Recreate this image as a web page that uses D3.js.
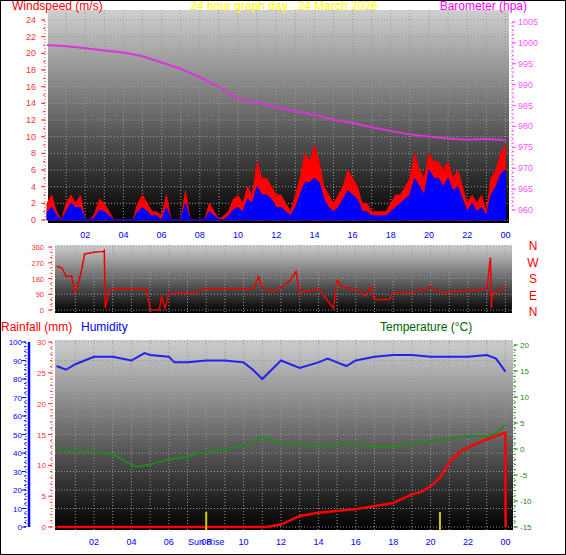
<!DOCTYPE html>
<html><head><meta charset="utf-8">
<script src="https://cdn.jsdelivr.net/npm/d3@7"></script>
<style>body{margin:0;background:#fff}svg{font-family:"Liberation Sans",Arial,sans-serif}</style>
</head><body><svg id="c" width="566" height="555"></svg>
<script>
// wind gust / average, one value per 15 minutes (m/s), 00:00 .. 24:00
const gust = [2,3,1,0, 2,3,2,3, 0,0,0.8,2.5, 2,1,0,0, 0,0,0,2, 3,2,1,1, 0.5,3,0,0, 0,3.5,0,0,
  0,0,2,1, 0,0.5,1,2.5, 3,2,4,3, 7,5,5,4, 3,3,2,1, 3,5,8,7, 9,7,4,3, 2,3,4,6, 5,4,2,2, 1,1,1,1,
  2,3,3,4, 5,8,6,5, 8,7,7,6, 7,5,6,4, 2,3,2,3, 1,5,6,8, 9];
const avg = [1,1.5,0.5,0, 1,2,1.5,1.5, 0,0,0.3,1.2, 1,0.5,0,0, 0,0,0,1, 1.5,1,0.5,0.5, 0,1.5,0,0, 0,2,0,0,
  0,0,1,0.5, 0,0,0.5,1.2, 1.5,1,2.5,2, 4,3,3,2.5, 1.5,1.5,1,0.5, 1.5,3,4.5,4.5, 5,4.5,2.5,1.5, 1,1.5,2.5,3.5, 3,2.5,1,1, 0.5,0.5,0.5,0.5,
  1,1.5,2,2.5, 3,5,4,3, 6,5,5,4, 5,3.5,4,2.5, 1,2,1,1.5, 0.5,3,4,5.5, 6];
const baroT = [0,1,2,3,4,5,6,7,8,9,10,11,12,13,14,15,16,17,18,19,20,21,22,23,24];
const baro = [999.5,999.2,998.7,998.2,997.7,996.8,995.3,993.8,991.8,989.5,986.6,985.7,984.7,983.6,982.8,981.6,980.8,979.8,978.9,978.1,977.6,977.1,976.8,977.0,976.7];
const dirT = [0,0.3,0.5,0.8,1.0,1.3,1.5,2.0,2.5,2.55,2.6,2.8,3.0,4.8,5.0,5.5,5.6,5.8,6.0,7.0,7.5,8.0,10.5,10.8,11.0,11.5,12.0,12.5,12.8,13.0,13.5,14.0,14.3,14.8,15.0,15.3,16.0,16.5,16.8,17.0,17.8,18.0,19.0,20.0,20.5,22.0,23.0,23.2,23.25,23.3,23.6,24.0];
const dir = [250,240,190,195,100,210,320,330,335,340,10,110,120,120,0,0,80,10,95,100,100,120,120,190,130,100,130,170,220,100,110,120,80,10,170,130,120,80,130,60,60,100,100,130,100,110,120,300,10,100,100,140];
const humT = [0,0.5,1,2,3,4,4.7,5,6,6.3,7,8,9,10,10.5,11,11.5,12,13,14,14.5,15,15.5,16,17,18,19,20,21,22,23,23.5,24];
const hum = [87,85,88,92,92,90,94,93,92,89,89,90,90,89,85,80,85,90,86,89,91,89,87,90,92,93,93,92,92,92,93,91,84];
const tempT = [0,0.5,1,2,3,4,4.3,5,6,7,7.5,8,9,10,11,12,13,14,15,16,17,18,19,20,21,22,23,23.5,24];
const temp = [0.4,-0.5,-0.5,-0.5,-1,-3,-3.4,-3,-2,-1.5,-0.8,-0.6,0,0.5,2.2,1,1,0.5,1,1,0.5,0.5,1,1.5,2,2.5,2.5,3,4.7];
const rainT = [0,11.2,12,13,14,16,18,19,19.5,20,20.5,21,21.5,22,23,24,24.01];
const rain = [0,0,0.4,1.8,2.3,2.9,3.9,5.3,5.7,6.6,8,10.5,12,12.9,14.2,15.3,0];
const hourTicks = [2,4,6,8,10,12,14,16,18,20,22,24];
const compass = ["N","W","S","E","N"];

const svg = d3.select("#c");
svg.append("rect").attr("x",0.5).attr("y",0.5).attr("width",565).attr("height",554).attr("fill","#fff").attr("stroke","#000");
const defs = svg.append("defs");
const g = defs.append("linearGradient").attr("id","bg").attr("x1",0).attr("x2",0).attr("y1",0).attr("y2",1);
g.append("stop").attr("offset","0%").attr("stop-color","#cfcfcf");
g.append("stop").attr("offset","100%").attr("stop-color","#000");
const fmtH = h => d3.format("02")(h % 24);

function panel(x0, x1, y0, y1, xs, ys, yt) {
  svg.append("rect").attr("x",x0).attr("y",y0).attr("width",x1-x0).attr("height",y1-y0).attr("fill","url(#bg)");
  const gr = svg.append("g").attr("stroke","#999").attr("stroke-dasharray","1,2").attr("stroke-width",1);
  d3.range(1,25).forEach(h => gr.append("line").attr("x1",xs(h)).attr("x2",xs(h)).attr("y1",y0).attr("y2",y1));
  yt.forEach(v => gr.append("line").attr("x1",x0).attr("x2",x1).attr("y1",ys(v)).attr("y2",ys(v)));
}
function dotAxis(x, ys, ticks, minor, color, side, labX, anchor, fs) {
  const a = svg.append("g");
  const [lo, hi] = ys.domain();
  a.append("line").attr("x1",x).attr("x2",x).attr("y1",ys(lo)).attr("y2",ys(hi)).attr("stroke",color).attr("stroke-dasharray","1,2");
  d3.range(lo, hi + 1e-9, minor).forEach(v => a.append("line").attr("x1",x).attr("x2",x+side*2).attr("y1",ys(v)).attr("y2",ys(v)).attr("stroke",color));
  ticks.forEach(v => {
    a.append("line").attr("x1",x).attr("x2",x+side*4).attr("y1",ys(v)).attr("y2",ys(v)).attr("stroke",color);
    a.append("text").attr("x",labX).attr("y",ys(v)+3).attr("text-anchor",anchor).attr("fill",color).attr("font-size",fs).text(v);
  });
}
function xLabels(xs, y) {
  hourTicks.forEach(h => svg.append("text").attr("x",xs(h)).attr("y",y).attr("text-anchor","middle").attr("fill","#0000ff").attr("font-size",9).text(fmtH(h)));
}

// ---- top panel: wind + barometer
const xT = d3.scaleLinear().domain([0,24]).range([47, 505.4]);
const yW = d3.scaleLinear().domain([0,24]).range([220, 20]);
const yB = d3.scaleLinear().domain([960,1005]).range([210, 22]);
panel(48, 509, 10, 223, xT, yW, d3.range(0,25,2));
const qt = d3.range(gust.length).map(i => i / 4);
const area = arr => d3.area().x((d,i) => xT(qt[i])).y0(yW(0)).y1(d => yW(d))(arr);
svg.append("path").attr("d", area(gust)).attr("fill","#ff0000").attr("stroke","#ee0000");
svg.append("path").attr("d", area(avg)).attr("fill","#0000ff").attr("stroke","#0000ee");
svg.append("path").attr("d", d3.line().x((d,i)=>xT(baroT[i])).y(d=>yB(d))(baro)).attr("fill","none").attr("stroke","#dd33dd").attr("stroke-width",2);
dotAxis(45, yW, d3.range(0,25,2), 1, "#ff3333", -1, 36, "end", 9);
dotAxis(512, yB, d3.range(960,1006,5), 1, "#ff55ff", 1, 518, "start", 9);
xLabels(xT, 238);
svg.append("text").attr("x",12).attr("y",10).attr("fill","#ff0000").attr("font-size",12).text("Windspeed (m/s)");
svg.append("text").attr("x",284).attr("y",10).attr("text-anchor","middle").attr("fill","#ffff00").attr("font-size",12).text("24 hour graph day : 24 March 2026");
svg.append("text").attr("x",527).attr("y",10).attr("text-anchor","end").attr("fill","#ff00ff").attr("font-size",12).text("Barometer (hpa)");

// ---- direction panel
const xB = d3.scaleLinear().domain([0,24]).range([56.6, 505.4]);
const yD = d3.scaleLinear().domain([0,360]).range([310, 247]);
panel(55, 512, 245, 313, xB, yD, [0,90,180,270,360]);
svg.append("path").attr("d", d3.line().x((d,i)=>xB(dirT[i])).y(d=>yD(d))(dir)).attr("fill","none").attr("stroke","#ee0000").attr("stroke-width",1.5);
dotAxis(52, yD, [0,90,180,270,360], 30, "#ff3333", -1, 44, "end", 7.5);
compass.forEach((c,i) => svg.append("text").attr("x",533).attr("y",250+i*16.5).attr("text-anchor","middle").attr("fill","#ff0000").attr("font-size",12).text(c));

// ---- bottom panel
const yH = d3.scaleLinear().domain([0,100]).range([527, 342]);
const yR = d3.scaleLinear().domain([0,30]).range([527, 342]);
const yTp = d3.scaleLinear().domain([-15,20]).range([527, 345]);
panel(55, 513, 340, 530, xB, yH, d3.range(0,101,10));
svg.append("path").attr("d", d3.line().x((d,i)=>xB(humT[i])).y(d=>yH(d))(hum)).attr("fill","none").attr("stroke","#2222ee").attr("stroke-width",2);
svg.append("path").attr("d", d3.line().x((d,i)=>xB(tempT[i])).y(d=>yTp(d))(temp)).attr("fill","none").attr("stroke","#228822").attr("stroke-width",2);
svg.append("path").attr("d", d3.line().x((d,i)=>xB(rainT[i])).y(d=>yR(d))(rain)).attr("fill","none").attr("stroke","#ff0000").attr("stroke-width",2.5);
[8, 20.5].forEach(h => svg.append("line").attr("x1",xB(h)).attr("x2",xB(h)).attr("y1",512).attr("y2",530).attr("stroke","#cccc00").attr("stroke-width",2));
svg.append("line").attr("x1",29).attr("x2",29).attr("y1",yH(0)).attr("y2",yH(100)).attr("stroke","#0000ff").attr("stroke-width",2.5);
dotAxis(26, yH, d3.range(0,101,10), 2.5, "#0000ff", -1, 22, "end", 8);
dotAxis(52, yR, d3.range(0,31,5), 1, "#ff3333", -1, 46, "end", 8);
dotAxis(514, yTp, d3.range(-15,21,5), 1, "#228822", 1, 520, "start", 8);
xLabels(xB, 545);
svg.append("text").attr("x",xB(8)).attr("y",545).attr("text-anchor","middle").attr("fill","#0000ff").attr("font-size",9).text("Sun Rise");
svg.append("text").attr("x",1).attr("y",331).attr("fill","#ff0000").attr("font-size",12).text("Rainfall (mm)");
svg.append("text").attr("x",81).attr("y",331).attr("fill","#0000ff").attr("font-size",12).text("Humidity");
svg.append("text").attr("x",380).attr("y",331).attr("fill","#006600").attr("font-size",12).text("Temperature (°C)");
</script></body></html>
